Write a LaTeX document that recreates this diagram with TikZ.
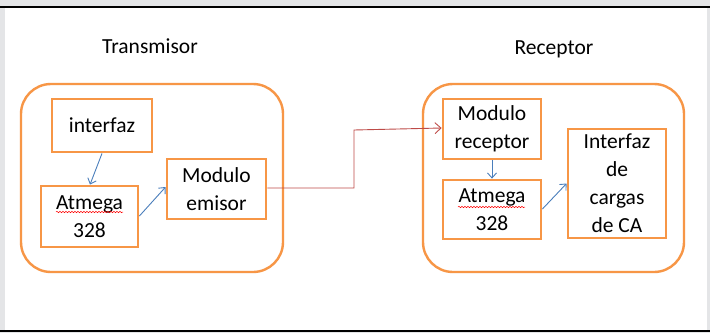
\documentclass[tikz,border=0pt]{standalone}
\usepackage{fontspec}
\setmainfont{Carlito}
\usetikzlibrary{arrows.meta,decorations.pathmorphing}
\definecolor{frameGray}{HTML}{E4E5E7}
\definecolor{boxOrange}{HTML}{F79646}
\definecolor{arrBlue}{HTML}{4A7EBB}
\definecolor{lnRed}{HTML}{BE4B48}
\tikzset{
  blockbox/.style={draw=boxOrange, line width=2.8pt, align=center, inner sep=0pt,
    font=\fontsize{21.5}{28}\selectfont},
  groupbox/.style={draw=boxOrange, line width=2.4pt, rounded corners=30pt},
  titletext/.style={font=\fontsize{21.5}{28}\selectfont},
  bluearrow/.style={draw=arrBlue, line width=0.9pt, -{Straight Barb[length=5pt,width=9pt]}},
  redarrow/.style={draw=lnRed, line width=0.9pt, -{Straight Barb[length=6pt,width=11pt]}},
  spellwave/.style={draw=red, line width=0.5pt, decorate,
    decoration={snake, segment length=3pt, amplitude=0.7pt}}
}
\begin{document}
\begin{tikzpicture}[x=1pt,y=-1pt]
\useasboundingbox (0,0) rectangle (710,333);
\fill[frameGray] (0,0) rectangle (710,333);
\fill[white] (5,7) rectangle (707,331);
\draw[black, line width=1.4pt] (0,7) -- (710,7);
\draw[black, line width=1.4pt] (0,331) -- (710,331);

% titles
\node[titletext] (ttx) at (150,46) {Transmisor};
\node[titletext] (trx) at (554,49) {Receptor};

% group boxes
\draw[groupbox] (21,84) rectangle (283,272);
\draw[groupbox] (423,84) rectangle (684,272);

% transmitter blocks
\node[blockbox, minimum width=100pt, minimum height=53pt] (intf) at (102,125.5) {interfaz};
\node[blockbox, minimum width=97pt, minimum height=61pt] (atx) at (89.5,216.5) {Atmega\\328};
\node[blockbox, minimum width=99pt, minimum height=60pt] (modem) at (216.5,189) {Modulo\\emisor};

% receiver blocks
\node[blockbox, minimum width=98pt, minimum height=60pt] (modrec) at (492,129) {Modulo\\receptor};
\node[blockbox, minimum width=98pt, minimum height=59pt] (arx) at (492,209.5) {Atmega\\328};
\node[blockbox, minimum width=98pt, minimum height=109pt] (icarga) at (617,183.5) {Interfaz\\de\\cargas\\de CA};

% spell-check underlines
\draw[spellwave] (56,212) -- (123,212);
\draw[spellwave] (458,207) -- (525,207);

% connectors
\draw[bluearrow] (intf.south) -- ([xshift=0.5pt]atx.north);
\draw[bluearrow] ([yshift=0.5pt]atx.east) -- ([yshift=2pt]modem.west);
\draw[bluearrow] (modrec.south) -- (arx.north);
\draw[bluearrow] ([yshift=0.5pt]arx.east) -- (icarga.west);
\draw[redarrow] ([yshift=1pt]modem.east) -| (354,130) -- ([yshift=1pt]modrec.west);
\end{tikzpicture}
\end{document}
